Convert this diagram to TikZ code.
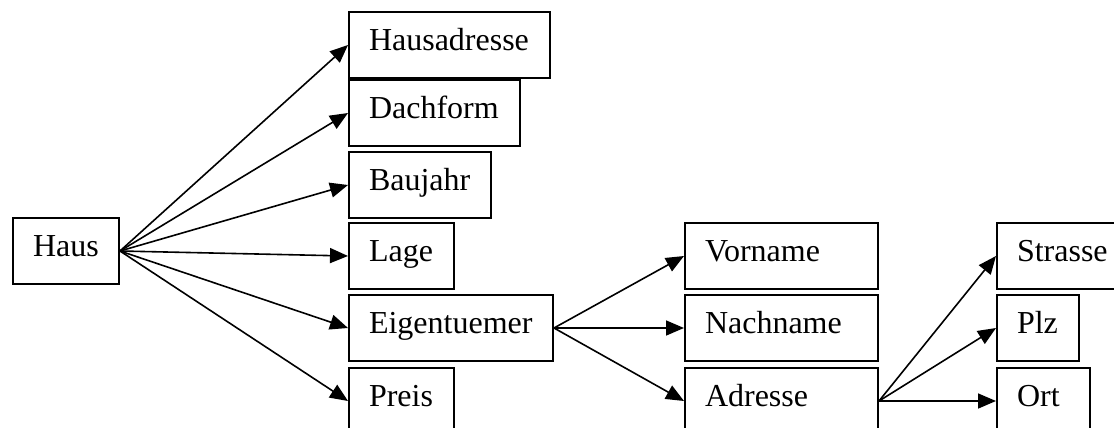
\documentclass[tikz,border=0pt]{standalone}
\usepackage{fontspec}
\setmainfont{Liberation Serif}
\usepackage{tikz}
\usetikzlibrary{arrows.meta}
\tikzset{
  box/.style={draw=black, line width=1pt, anchor=north west, minimum height=33pt,
    inner xsep=10pt, align=left, text height=0.66em, text depth=0.08em,
    font=\fontsize{16}{19}\selectfont},
  link/.style={draw=black, line width=0.8pt, -{Triangle[length=9pt,width=7.5pt]}}
}

\begin{document}
\begin{tikzpicture}[x=0.5pt,y=-0.5pt]
  \useasboundingbox (0,0) rectangle (1114,428);

  % first level
  \node[box, text width=33pt]   (haus)        at (12,217)  {Haus};
  \node[box, text width=80.5pt] (hausadresse) at (348,11)  {Hausadresse};
  \node[box, text width=65.5pt] (dachform)    at (348,79)  {Dachform};
  \node[box, text width=51pt]   (baujahr)     at (348,151) {Baujahr};
  \node[box, text width=32.5pt] (lage)        at (348,222) {Lage};
  \node[box, text width=82pt]   (eigen)       at (348,294) {Eigentuemer};
  \node[box, text width=32.5pt] (preis)       at (348,367) {Preis};

  % owner
  \node[box, text width=76.5pt] (vorname)  at (684,222) {Vorname};
  \node[box, text width=76.5pt] (nachname) at (684,294) {Nachname};
  \node[box, text width=76.5pt] (adresse)  at (684,367) {Adresse};

  % address
  \node[box, text width=47pt]   (strasse) at (996,222) {Strasse};
  \node[box, text width=21pt]   (plz)     at (996,294) {Plz};
  \node[box, text width=26.5pt] (ort)     at (996,367) {Ort};

  \foreach \n in {hausadresse,dachform,baujahr,lage,eigen,preis}
    \draw[link] (haus.east) -- (\n.west);
  \foreach \n in {vorname,nachname,adresse}
    \draw[link] (eigen.east) -- (\n.west);
  \foreach \n in {strasse,plz,ort}
    \draw[link] (adresse.east) -- (\n.west);
\end{tikzpicture}
\end{document}
